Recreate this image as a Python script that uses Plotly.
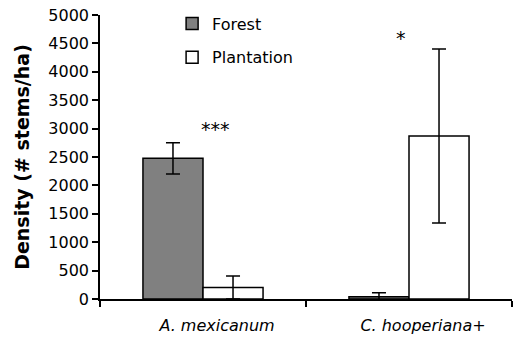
import plotly.graph_objects as go

categories = ["A. mexicanum", "C. hooperiana+"]
forest = [2477, 40]
forest_err = [276, 70]
plantation = [203, 2870]
plantation_err = [203, 1530]
sig_labels = ["***", "*"]
sig_x = [0.063, 0.96]
sig_y = [2990, 4600]
y_ticks = list(range(0, 5001, 500))

FONT = "DejaVu Sans"

fig = go.Figure()
fig.add_trace(go.Bar(
    x=categories, y=forest, name="Forest", legendgroup="f",
    marker=dict(color="#808080", line=dict(color="black", width=1.5)),
    error_y=dict(type="data", array=forest_err, color="black", thickness=1.5, width=7),
))
fig.add_trace(go.Bar(
    x=categories, y=plantation, name="Plantation", legendgroup="p",
    marker=dict(color="white", line=dict(color="black", width=1.5)),
    error_y=dict(type="data", array=plantation_err, color="black", thickness=1.5, width=7),
))

for lab, xx, yy in zip(sig_labels, sig_x, sig_y):
    fig.add_annotation(x=xx, y=yy, xref="x", yref="y", text=lab, showarrow=False,
                       font=dict(family=FONT, size=19, color="black"))

fig.update_layout(
    width=514, height=338,
    margin=dict(l=100, r=2, t=15, b=39),
    paper_bgcolor="white", plot_bgcolor="white",
    barmode="group", bargap=0.417, bargroupgap=0,
    font=dict(family=FONT, color="black"),
    legend=dict(x=0.175, y=1.03, xanchor="left", yanchor="top",
                font=dict(family=FONT, size=16), tracegroupgap=10,
                bgcolor="rgba(0,0,0,0)"),
    showlegend=True,
)
fig.update_xaxes(
    type="category", range=[-0.5, 1.5], tickson="boundaries",
    ticks="outside", ticklen=6, tickcolor="black", tickwidth=1.5,
    showline=True, linecolor="black", linewidth=1.5,
    tickfont=dict(family=FONT, size=16, style="italic"),
    ticklabelshift=14, ticklabelstandoff=11,
    showgrid=False, zeroline=False,
)
fig.update_yaxes(
    range=[0, 5000], tickvals=y_ticks,
    ticks="outside", ticklen=6, tickcolor="black", tickwidth=1.5,
    showline=True, linecolor="black", linewidth=1.5,
    tickfont=dict(family=FONT, size=16),
    showgrid=False, zeroline=False,
    title=dict(text="Density (# stems/ha)", font=dict(family=FONT, size=19, weight="bold"), standoff=14),
)

fig.write_html("out.html")
